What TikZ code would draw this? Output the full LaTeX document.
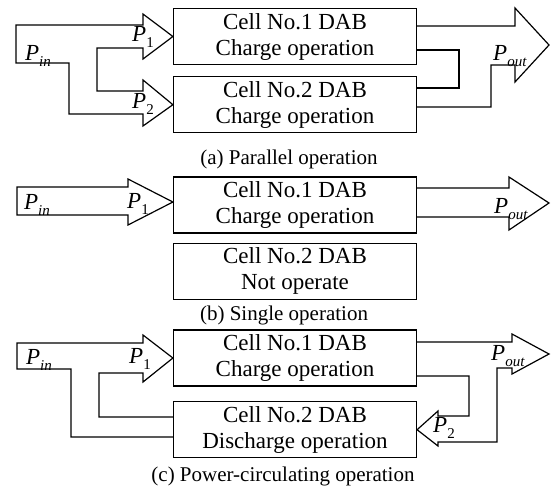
\documentclass[tikz,border=0pt]{standalone}
\usepackage{fontspec}
\setmainfont{Liberation Serif}
\usetikzlibrary{positioning}
\newcommand{\pw}[1]{\textit{P}\raisebox{-0.25em}{\fontsize{15}{15}\selectfont #1}}

\begin{document}
\begin{tikzpicture}[x=1pt, y=-1pt, line width=1.2pt,
    cellbox/.style={draw, minimum width=243pt, minimum height=56pt, align=center,
      font=\fontsize{23}{26}\selectfont},
    caption/.style={font=\fontsize{21}{24}\selectfont},
    plabel/.style={font=\fontsize{23}{26}\selectfont, inner sep=0pt}]
  \useasboundingbox (0,0) rectangle (551,491);

  % (a) parallel
  \node [cellbox] (a1) at (295,36.5) {Cell No.1 DAB\\Charge operation};
  \node [cellbox, below=11pt of a1] (a2) {Cell No.2 DAB\\Charge operation};
  \draw (16,25) -- (143,25) -- (143,14) -- (a1.west) -- (143,59) -- (143,48) -- (97,48)
    -- (97,91) -- (143,91) -- (143,80) -- (a2.west) -- (143,126) -- (143,114) -- (69,114)
    -- (69,63) -- (16,63) -- cycle;
  \draw (416.5,26) -- (515,26) -- (515,8) -- (549,45) -- (515,82) -- (515,65) -- (491,65)
    -- (491,107) -- (416.5,107);
  \draw (416.5,50) -- (459,50) -- (459,88) -- (416.5,88);
  \node [plabel] (pina) at (38,56) {\pw{\textit{in}}};
  \node [plabel] (p1a) at (143,37) {\pw{1}};
  \node [plabel] (p2a) at (143,104) {\pw{2}};
  \node [plabel] (pouta) at (510,56) {\pw{\textit{out}}};
  \node [caption] (capa) at (289,159) {(a) Parallel operation};

  % (b) single
  \node [cellbox] (b1) at (295,205) {Cell No.1 DAB\\Charge operation};
  \node [cellbox, below=9pt of b1] (b2) {Cell No.2 DAB\\Not operate};
  \draw (17,187) -- (128,187) -- (128,179) -- ([yshift=3pt]b1.west) -- (128,225)
    -- (128,215) -- (17,215) -- cycle;
  \draw (416.5,188) -- (509,188) -- (509,177) -- (549,203) -- (509,230) -- (509,217)
    -- (416.5,217);
  \node [plabel] (pinb) at (37,205) {\pw{\textit{in}}};
  \node [plabel] (p1b) at (138,204) {\pw{1}};
  \node [plabel] (poutb) at (511,209) {\pw{\textit{out}}};
  \node [caption] (capb) at (284,315) {(b) Single operation};

  % (c) power-circulating
  \node [cellbox] (c1) at (295,358) {Cell No.1 DAB\\Charge operation};
  \node [cellbox, below=14.5pt of c1] (c2) {Cell No.2 DAB\\Discharge operation};
  \draw (173.5,417) -- (99,417) -- (99,373) -- (143,373) -- (143,382) -- (c1.west)
    -- (143,335) -- (143,343) -- (17,343) -- (17,369) -- (71,369) -- (71,437) -- (173.5,437);
  \draw (416.5,342) -- (512,342) -- (512,334) -- (549,354) -- (512,374) -- (512,368)
    -- (497,368) -- (497,442) -- (438,442) -- (438,446) -- (c2.east) -- (438,411)
    -- (438,416) -- (469,416) -- (469,376) -- (416.5,376);
  \node [plabel] (pinc) at (39,360) {\pw{\textit{in}}};
  \node [plabel] (p1c) at (140,359) {\pw{1}};
  \node [plabel] (poutc) at (508,356) {\pw{\textit{out}}};
  \node [plabel] (p2c) at (444,428) {\pw{2}};
  \node [caption] (capc) at (283,476) {(c) Power-circulating operation};
\end{tikzpicture}
\end{document}
